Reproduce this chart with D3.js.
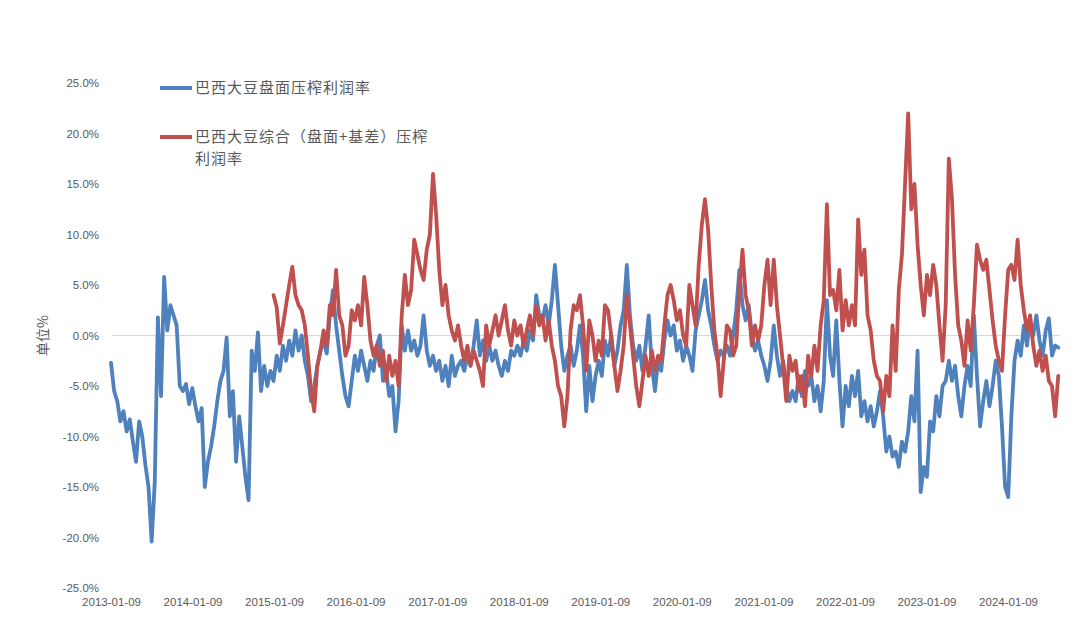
<!DOCTYPE html>
<html>
<head>
<meta charset="utf-8">
<script src="https://cdn.jsdelivr.net/npm/d3@7/dist/d3.min.js"></script>
<style>
  html, body { margin: 0; padding: 0; background: #ffffff; }
  svg { display: block; }
</style>
</head>
<body>
<svg id="chart" width="1080" height="617"></svg>
<script>
// ---------------- data ----------------
const seriesNames = ["巴西大豆盘面压榨利润率", "巴西大豆综合（盘面+基差）压榨利润率"];
const xTickLabels = ["2013-01-09","2014-01-09","2015-01-09","2016-01-09","2017-01-09","2018-01-09",
                     "2019-01-09","2020-01-09","2021-01-09","2022-01-09","2023-01-09","2024-01-09"];
const yTickValues = [25, 20, 15, 10, 5, 0, -5, -10, -15, -20, -25];
// values sampled every 14 days
const stepDays = 14;
const blueStart = "2013-01-09";
const blueValues = [
 -2.7,-5.5,-6.5,-8.5,-7.5,-9.5,-8.3,-10.5,-12.5,-8.5,
 -10.0,-12.8,-15.0,-20.4,-14.5,1.8,-6.0,5.8,0.5,3.0,
 2.0,1.0,-5.0,-5.5,-4.8,-6.8,-5.2,-7.0,-8.5,-7.2,
 -15.0,-12.5,-11.0,-9.0,-6.5,-4.5,-3.5,-0.2,-8.0,-5.5,
 -12.5,-8.0,-11.0,-14.0,-16.3,-1.5,-3.5,0.3,-5.5,-3.0,
 -5.0,-3.5,-4.5,-2.0,-3.5,-1.0,-2.5,-0.5,-2.0,0.5,
 -1.5,0.0,-2.5,-4.0,-6.5,-5.0,-3.0,-1.5,-0.5,-1.8,
 2.0,4.5,1.0,-1.5,-4.0,-6.0,-7.0,-4.5,-2.0,-3.5,
 -1.5,-3.0,-4.5,-2.5,-3.5,-1.0,0.0,-4.5,-3.5,-6.0,
 -5.0,-9.5,-6.5,1.0,-1.5,0.5,-1.5,-0.5,-2.0,-1.0,
 2.0,-1.5,-3.0,-2.0,-3.5,-2.5,-4.5,-3.0,-5.0,-2.0,
 -4.0,-3.0,-2.5,-3.5,-2.0,-3.0,-1.0,1.5,-2.0,-0.5,
 -2.5,-1.0,-2.5,-1.5,-3.0,-4.0,-2.5,-3.5,-1.5,-2.0,
 -1.0,-2.0,-0.5,-1.5,0.5,-0.5,4.0,2.0,1.5,3.0,
 1.0,3.5,7.0,3.0,-1.0,-3.5,-2.0,-1.0,-3.0,-1.5,
 1.0,-2.0,-7.5,-3.0,-6.5,-4.0,-2.5,-4.0,-0.5,-2.0,
 0.0,-3.0,-1.5,1.0,2.5,7.0,2.0,-1.0,-2.5,-1.0,
 -3.5,-1.0,2.0,-3.0,-5.5,-2.5,-3.5,-0.5,1.5,0.0,
 1.0,-1.5,-0.5,-2.5,-1.0,-2.0,-3.5,0.5,2.0,3.5,
 5.5,2.5,1.0,-1.0,-2.5,-1.5,-2.0,-1.0,-2.0,0.0,
 2.5,6.5,3.0,1.5,3.0,0.0,-1.5,-0.5,-2.0,-3.0,
 -4.5,-2.5,1.0,-2.0,-4.0,-2.5,-5.0,-6.5,-5.5,-6.5,
 -4.0,-6.0,-3.5,-5.0,-4.0,-6.5,-5.0,-7.5,-4.5,3.5,
 -2.0,-4.0,1.5,-4.5,-9.0,-5.0,-7.0,-4.0,-6.0,-3.5,
 -8.0,-6.5,-8.5,-7.0,-9.0,-7.5,-5.5,-8.0,-11.5,-10.0,
 -12.0,-11.5,-13.0,-10.5,-11.5,-9.5,-6.0,-8.5,-1.5,-15.5,
 -13.0,-14.0,-8.5,-9.5,-6.0,-8.0,-5.0,-4.5,-2.5,-4.5,
 -3.0,-6.0,-8.0,-5.0,-3.0,-5.0,2.0,-4.0,-9.0,-6.5,
 -4.5,-7.0,-5.0,-2.5,-4.0,-9.0,-15.0,-16.0,-8.0,-2.5,
 -0.5,-2.0,1.0,-1.0,1.5,0.0,2.0,-0.5,-2.0,0.5,
 1.7,-2.0,-1.0,-1.2
];
const redStart = "2015-01-07";
const redValues = [
 4.0,2.8,-0.8,1.0,3.0,5.0,6.8,4.0,3.0,2.5,
 1.0,-2.0,-5.5,-7.5,-3.0,-1.5,0.5,-1.0,3.0,2.0,
 6.5,2.0,1.0,-2.0,-1.0,2.5,1.5,3.0,1.0,5.8,
 3.0,-0.5,-2.0,-1.0,-3.0,-1.5,-4.5,-2.0,-4.0,-2.5,
 -5.0,2.0,6.0,3.0,4.5,9.5,8.0,6.5,5.5,8.5,
 10.0,16.0,12.0,6.5,3.0,5.0,2.0,0.5,-0.5,1.0,
 -1.0,-2.5,-1.0,-3.0,-1.5,-2.5,-3.5,-5.0,1.0,-1.0,
 0.5,2.0,0.0,1.5,3.0,0.5,-1.0,1.5,0.0,1.0,
 -1.0,0.5,2.0,0.0,3.0,1.0,2.0,-0.5,1.5,-1.0,
 -2.5,-5.0,-6.0,-9.0,-6.0,0.5,3.0,2.5,4.0,1.0,
 -3.5,1.5,0.0,-2.5,-0.5,-2.0,3.0,2.5,0.0,-3.0,
 -5.5,-3.5,-1.0,4.0,1.0,-2.0,-5.0,-7.0,-4.5,-2.0,
 -4.0,-1.5,-3.5,-2.0,-2.5,1.0,4.0,5.0,3.5,1.5,
 2.5,0.0,-1.0,5.0,3.0,1.0,7.0,11.0,13.5,10.5,
 5.0,0.5,-2.0,-6.0,-2.5,1.0,0.5,-2.0,-1.0,4.5,
 8.5,4.0,2.5,-1.0,1.0,-0.5,1.0,5.0,7.5,3.0,
 7.5,3.0,0.0,-3.0,-6.5,-2.0,-3.5,-2.5,-5.5,-4.0,
 -7.0,-2.0,-4.0,-1.0,-3.5,1.0,3.5,13.0,4.0,4.5,
 2.5,6.5,0.5,3.5,1.0,3.0,1.0,11.5,6.0,8.5,
 2.0,0.5,-2.5,-4.0,-4.5,-7.5,-4.0,-6.0,1.0,-3.5,
 4.5,8.0,15.0,22.0,12.5,15.0,9.0,5.0,2.0,6.0,
 4.0,7.0,5.0,1.0,-2.5,3.0,17.5,13.5,6.0,1.0,
 -0.5,-3.0,1.5,-1.5,3.0,9.0,7.5,6.5,7.5,4.5,
 1.5,-1.0,-2.5,-3.5,2.0,6.5,7.0,5.5,9.5,5.0,
 2.5,0.5,2.0,-1.0,-3.0,-1.5,-3.5,-2.0,-4.5,-5.0,
 -8.0,-4.0
];
const colors = ["#4F81BD", "#C0504D"];

// ---------------- chart ----------------
const parse = d3.timeParse("%Y-%m-%d");
function toPoints(start, values) {
  const s = parse(start);
  return values.map((v, i) => ({ date: d3.timeDay.offset(s, i * stepDays), value: v }));
}
const blue = toPoints(blueStart, blueValues);
const red = toPoints(redStart, redValues);

const svg = d3.select("#chart");
const x = d3.scaleTime()
  .domain([parse(xTickLabels[0]), parse(xTickLabels[xTickLabels.length - 1])])
  .range([111, 1008]);
const y = d3.scaleLinear().domain([-25, 25]).range([588, 83]);

const textColor = "#595959";
const axisFont = "'Liberation Sans', Arial, sans-serif";
const cjkFont = "'Noto Sans CJK SC', 'Noto Sans', sans-serif";

// zero gridline
svg.append("line")
  .attr("x1", 112).attr("x2", 1060)
  .attr("y1", y(0)).attr("y2", y(0))
  .attr("stroke", "#D9D9D9").attr("stroke-width", 1);

// y axis (labels only)
const yAxis = d3.axisLeft(y).tickValues(yTickValues)
  .tickFormat(d => d.toFixed(1) + "%").tickSize(0).tickPadding(0);
const yg = svg.append("g").attr("transform", "translate(99,0)").call(yAxis);
yg.select(".domain").remove();
yg.selectAll("text").attr("fill", textColor).style("font-family", axisFont).style("font-size", "11.5px");

// x axis (labels only)
const xAxis = d3.axisBottom(x).tickValues(xTickLabels.map(parse))
  .tickFormat(d3.timeFormat("%Y-%m-%d")).tickSize(0).tickPadding(0);
const xg = svg.append("g").attr("transform", "translate(0,598)").call(xAxis);
xg.select(".domain").remove();
xg.selectAll("text").attr("fill", textColor).style("font-family", axisFont).style("font-size", "11.5px");

// y axis title
svg.append("text")
  .attr("transform", "translate(48," + (y(0)) + ") rotate(-90)")
  .attr("text-anchor", "middle")
  .attr("fill", textColor)
  .style("font-family", cjkFont).style("font-size", "14px")
  .text("单位%");

// lines
const line = d3.line().x(d => x(d.date)).y(d => y(d.value));
[blue, red].forEach((data, k) => {
  svg.append("path").datum(data)
    .attr("d", line)
    .attr("fill", "none")
    .attr("stroke", colors[k])
    .attr("stroke-width", 3.8)
    .attr("stroke-linejoin", "round")
    .attr("stroke-linecap", "round");
});

// legend
const legend = svg.append("g");
const legendItems = [
  { y: 88, lines: [seriesNames[0]] },
  { y: 137, lines: ["巴西大豆综合（盘面+基差）压榨", "利润率"] }
];
legendItems.forEach((item, k) => {
  legend.append("line")
    .attr("x1", 160).attr("x2", 192)
    .attr("y1", item.y).attr("y2", item.y)
    .attr("stroke", colors[k]).attr("stroke-width", 4);
  item.lines.forEach((t, j) => {
    legend.append("text")
      .attr("x", 195).attr("y", item.y + j * 22)
      .attr("dy", "0.35em")
      .attr("fill", textColor)
      .style("font-family", cjkFont).style("font-size", "15px")
      .style("letter-spacing", "1px")
      .text(t);
  });
});
</script>
</body>
</html>
